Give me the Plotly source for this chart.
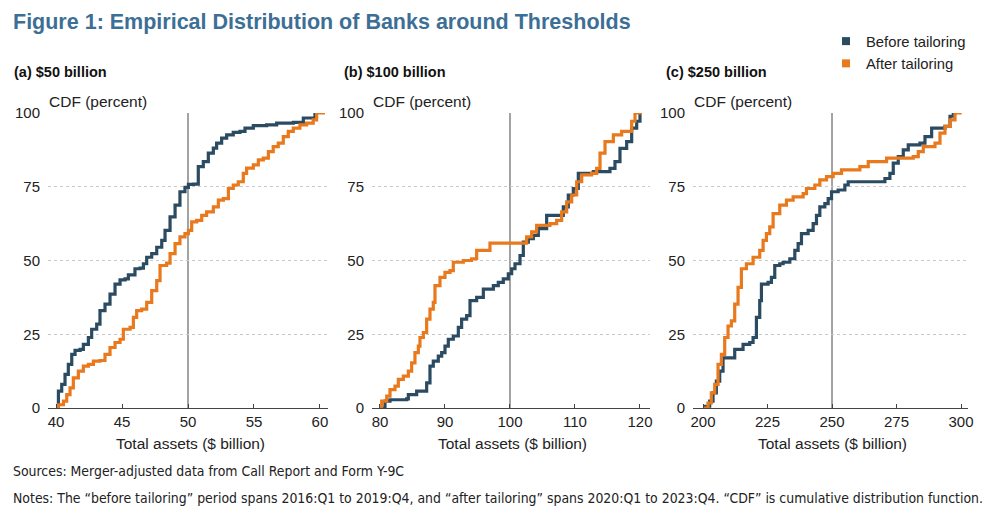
import plotly.graph_objects as go

# ---------------- data ----------------
p1_before_x = [40.0, 40.18, 40.43, 40.68, 40.93, 41.19, 41.44, 41.82, 42.07, 42.45, 42.70, 43.08, 43.33, 43.71, 44.09, 44.47, 44.85, 45.23, 45.48, 45.98, 46.36, 46.62, 46.87, 47.25, 47.63, 48.01, 48.26, 48.64, 49.02, 49.39, 49.77, 50.03, 50.40, 50.78, 51.16, 51.54, 51.92, 52.17, 52.55, 52.93, 53.43, 53.94, 54.32, 54.95, 55.96, 56.72, 57.98, 58.74, 59.62]
p1_before_y = [0, 5.7, 8, 11.4, 14.8, 18.2, 19.5, 19.9, 21.6, 23.9, 26.7, 28.4, 33, 35.2, 38.6, 42, 43.4, 43.8, 45.1, 47.2, 47.4, 48.9, 51.1, 52.3, 54.5, 56.8, 60.2, 64.8, 68.8, 73.3, 74.8, 75.8, 75.9, 81.8, 83.5, 86.4, 88.1, 89.8, 91.5, 92.6, 93.4, 93.75, 94.9, 95.7, 96, 96.6, 96.8, 98.3, 100]

p1_after_x = [40.0, 40.18, 40.56, 40.81, 41.06, 41.31, 41.69, 42.07, 42.45, 42.83, 43.33, 43.71, 44.09, 44.47, 44.85, 45.10, 45.61, 45.86, 46.11, 46.49, 46.87, 47.25, 47.63, 47.88, 48.38, 48.64, 49.02, 49.39, 49.77, 50.03, 50.28, 50.66, 51.04, 51.41, 51.92, 52.30, 52.68, 53.06, 53.43, 53.81, 54.19, 54.44, 54.95, 55.33, 55.71, 56.09, 56.46, 56.84, 57.22, 57.60, 57.98, 58.48, 58.99, 59.49, 59.75, 60.38]
p1_after_y = [0, 1.1, 2.3, 4.5, 6.8, 10.2, 12.5, 14.2, 14.8, 15.9, 16.1, 18.2, 20.5, 22.2, 23.3, 26.7, 27.3, 30.7, 33, 33.5, 35.8, 39.8, 43.2, 48.3, 49.1, 52.3, 55.7, 58, 59.1, 60.2, 63.1, 63.6, 65.3, 66.5, 68.2, 70.5, 71, 74.4, 75.6, 76.7, 79.5, 81.3, 82.4, 84.1, 84.7, 86.9, 88.6, 89.8, 92, 93.75, 94.9, 96, 96.6, 97.7, 100, 100]

p2_before_x = [80.26, 80.77, 81.54, 84.1, 84.36, 85.38, 85.64, 86.92, 87.18, 87.69, 88.2, 88.97, 89.49, 90.0, 90.51, 91.28, 92.05, 92.56, 93.33, 93.85, 94.87, 95.9, 97.44, 98.2, 98.97, 99.74, 100.26, 100.77, 101.54, 102.05, 102.82, 103.59, 104.36, 105.64, 108.2, 108.97, 109.74, 110.51, 112.82, 115.38, 116.15, 116.92, 117.95, 118.72, 119.49, 120.0]
p2_before_y = [0, 2.3, 2.8, 3.1, 4.5, 4.5, 5.7, 5.7, 8.5, 14.2, 15.9, 17.6, 18.8, 21, 23.3, 24.4, 27.3, 30.1, 31.3, 36.4, 37.5, 40.3, 41.5, 42.6, 43.75, 45.5, 47.2, 48.9, 51.7, 56.25, 57.4, 58.5, 60.8, 65.3, 68.2, 72.2, 74.4, 79.5, 80.1, 81.25, 83.5, 88, 90.3, 94.9, 97.2, 100]

p2_after_x = [80.0, 80.26, 81.03, 81.54, 82.31, 82.82, 83.59, 84.36, 84.87, 85.38, 85.9, 86.15, 86.67, 87.18, 87.69, 88.2, 88.46, 89.23, 90.0, 90.77, 91.28, 92.82, 94.1, 94.87, 96.92, 102.56, 103.33, 104.1, 106.15, 107.18, 107.95, 108.72, 109.49, 110.26, 111.03, 112.56, 113.33, 113.85, 114.62, 115.9, 117.18, 118.72, 119.23, 120.26]
p2_after_y = [0, 2.3, 4, 6.25, 7.4, 9.7, 10.8, 12.5, 15.3, 18.75, 21, 23.9, 25.6, 30.1, 33.5, 35.8, 41.5, 44.3, 46, 46.6, 49.4, 50, 50.6, 53.4, 55.9, 58, 59.7, 61.9, 62.5, 63.6, 66.5, 69.9, 72.2, 76.7, 79, 79.5, 81.25, 86.4, 90.3, 92.6, 93.75, 97.2, 100, 100]

p3_before_x = [200.0, 202.59, 203.88, 205.17, 206.47, 207.76, 212.29, 215.52, 218.11, 219.4, 220.7, 221.99, 222.64, 225.23, 226.52, 227.81, 229.75, 231.05, 233.64, 235.58, 236.87, 238.16, 240.75, 242.69, 243.98, 245.28, 247.22, 248.51, 249.81, 252.39, 254.98, 256.27, 270.5, 272.44, 273.74, 275.68, 277.62, 279.56, 284.09, 286.03, 288.62, 293.79, 295.73, 297.0]
p3_before_y = [0.6, 2.3, 5.1, 9.1, 12.5, 17, 19.9, 21.6, 22.2, 23.9, 30.7, 36.4, 42, 42.6, 44.3, 48.3, 48.9, 49.4, 50.6, 53.4, 55.7, 59.1, 60.2, 62.5, 65.3, 68.2, 69.3, 71, 73.3, 73.9, 75.6, 76.7, 77.8, 79.5, 83, 85.2, 87.5, 89.2, 89.8, 92, 94.9, 95.5, 98.9, 100]

p3_after_x = [200.0, 201.94, 203.23, 204.53, 205.82, 207.12, 208.41, 209.7, 211.0, 212.29, 213.58, 214.88, 216.82, 219.4, 221.99, 223.29, 224.58, 225.87, 227.17, 229.75, 232.34, 234.93, 238.81, 240.1, 243.34, 245.28, 247.87, 250.45, 253.69, 260.8, 264.04, 271.15, 281.5, 283.44, 285.38, 289.91, 291.85, 293.79, 295.73, 297.67, 300.26]
p3_after_y = [0, 1.7, 5.1, 8, 14.8, 18.2, 23.9, 27.8, 29.5, 35.2, 40.9, 47.2, 48.9, 51.1, 53.4, 56.8, 59.1, 61.4, 65.9, 68.75, 70.5, 71.6, 72.7, 74.4, 75.6, 77.3, 78.4, 79.5, 80.7, 81.8, 83.5, 84.7, 85.2, 86.9, 88.6, 89.8, 93.2, 95.5, 97.7, 100, 100]

panel_titles = ["(a) $50 billion", "(b) $100 billion", "(c) $250 billion"]
thresholds = [50, 100, 250]
x_ticks = [[40, 45, 50, 55, 60], [80, 90, 100, 110, 120], [200, 225, 250, 275, 300]]
y_ticks = [0, 25, 50, 75, 100]
series_names = ["Before tailoring", "After tailoring"]

title_text = "Figure 1: Empirical Distribution of Banks around Thresholds"
y_title = "CDF (percent)"
x_title = "Total assets ($ billion)"
source_text = "Sources: Merger-adjusted data from Call Report and Form Y-9C"
notes_text = ("Notes: The \u201cbefore tailoring\u201d period spans 2016:Q1 to 2019:Q4, and \u201cafter tailoring\u201d "
              "spans 2020:Q1 to 2023:Q4. \u201cCDF\u201d is cumulative distribution function.")

# ---------------- styling / layout ----------------
OFF = 8                      # page body margin in the browser
W, H = 991 - OFF, 517 - OFF
C_BEFORE = "#2b4b62"
C_AFTER = "#e8791d"
TITLE_C = "#3d6f96"
FONT = "Liberation Sans, Arial, sans-serif"
NARROW = "Liberation Sans Narrow, Arial Narrow, DejaVu Sans Condensed, Liberation Sans, sans-serif"

px_dom = [(48, 328), (372, 650), (693, 968)]
x_ranges = [[39.39, 60.61], [78.77, 121.54], [196.12, 302.71]]
y_top_px, y_bot_px = 113, 408


def py(p):
    return 1 - (p - OFF) / H


def pxx(p):
    return (p - OFF) / W


ydom = [py(y_bot_px), py(y_top_px)]

data = [
    (p1_before_x, p1_before_y, p1_after_x, p1_after_y),
    (p2_before_x, p2_before_y, p2_after_x, p2_after_y),
    (p3_before_x, p3_before_y, p3_after_x, p3_after_y),
]

fig = go.Figure()
layout = dict()
annotations = []
shapes = []

for i in range(3):
    n = "" if i == 0 else str(i + 1)
    xa, ya = "x" + n, "y" + n
    bx, by, ax_, ay = data[i]
    fig.add_trace(go.Scatter(x=bx, y=by, xaxis=xa, yaxis=ya, mode="lines",
                             line=dict(color=C_BEFORE, width=3.2, shape="hv"),
                             showlegend=False, cliponaxis=False, hoverinfo="skip"))
    fig.add_trace(go.Scatter(x=ax_, y=ay, xaxis=xa, yaxis=ya, mode="lines",
                             line=dict(color=C_AFTER, width=3.2, shape="hv"),
                             showlegend=False, cliponaxis=False, hoverinfo="skip"))
    l, r = px_dom[i]
    layout["xaxis" + n] = dict(domain=[pxx(l), pxx(r)], range=x_ranges[i], anchor=ya,
                               tickvals=x_ticks[i], ticks="inside", ticklen=4, tickcolor="#444",
                               showline=True, linecolor="#444", linewidth=1, showgrid=False,
                               zeroline=False, tickfont=dict(family=FONT, size=15, color="#222"),
                               fixedrange=True, automargin=False)
    layout["yaxis" + n] = dict(domain=ydom, range=[0, 100], anchor=xa,
                               tickvals=y_ticks, ticks="", showline=False,
                               showgrid=True, gridcolor="#c9c9c9", griddash="dot", gridwidth=1,
                               zeroline=False, tickfont=dict(family=FONT, size=15, color="#222"),
                               ticklabelstandoff=7, fixedrange=True, automargin=False)
    shapes.append(dict(type="line", xref=xa, yref=ya, x0=thresholds[i], x1=thresholds[i],
                       y0=0, y1=100, line=dict(color="#8c8c8c", width=1.6), layer="below"))
    title_x = [12, 342, 664][i]
    annotations.append(dict(text="<b>" + panel_titles[i] + "</b>", xref="paper", yref="paper",
                            x=pxx(title_x), y=py(72), xanchor="left", yanchor="middle",
                            showarrow=False, font=dict(family=FONT, size=14.5, color="#111")))
    annotations.append(dict(text=y_title, xref="paper", yref="paper",
                            x=pxx(l - 1), y=py(102), xanchor="left", yanchor="middle",
                            showarrow=False, font=dict(family=FONT, size=15.5, color="#222")))
    annotations.append(dict(text=x_title, xref="paper", yref="paper",
                            x=pxx((l + r) / 2 + 2), y=py(443), xanchor="center", yanchor="middle",
                            showarrow=False, font=dict(family=FONT, size=15.5, color="#222")))

# legend entries
for name, c in zip(series_names, [C_BEFORE, C_AFTER]):
    fig.add_trace(go.Scatter(x=[None], y=[None], mode="markers", name=name,
                             marker=dict(symbol="square", size=8, color=c), hoverinfo="skip"))

annotations.append(dict(text="<b>" + title_text + "</b>", xref="paper", yref="paper",
                        x=pxx(11), y=py(22), xanchor="left", yanchor="middle", showarrow=False,
                        font=dict(family=FONT, size=21.5, color=TITLE_C)))
annotations.append(dict(text=source_text, xref="paper", yref="paper",
                        x=pxx(11), y=py(471), xanchor="left", yanchor="middle", showarrow=False,
                        font=dict(family=NARROW, size=13.9, color="#222")))
annotations.append(dict(text=notes_text, xref="paper", yref="paper",
                        x=pxx(11), y=py(498), xanchor="left", yanchor="middle", showarrow=False,
                        font=dict(family=NARROW, size=13.9, color="#222")))

fig.update_layout(
    width=W, height=H,
    margin=dict(l=0, r=0, t=0, b=0, pad=0),
    paper_bgcolor="white", plot_bgcolor="white",
    showlegend=True,
    legend=dict(x=pxx(826), y=py(25), xanchor="left", yanchor="top",
                font=dict(family=FONT, size=14.8, color="#222"),
                itemwidth=30, tracegroupgap=0, bgcolor="rgba(0,0,0,0)"),
    annotations=annotations, shapes=shapes,
    **layout,
)

fig.write_html("out.html")
